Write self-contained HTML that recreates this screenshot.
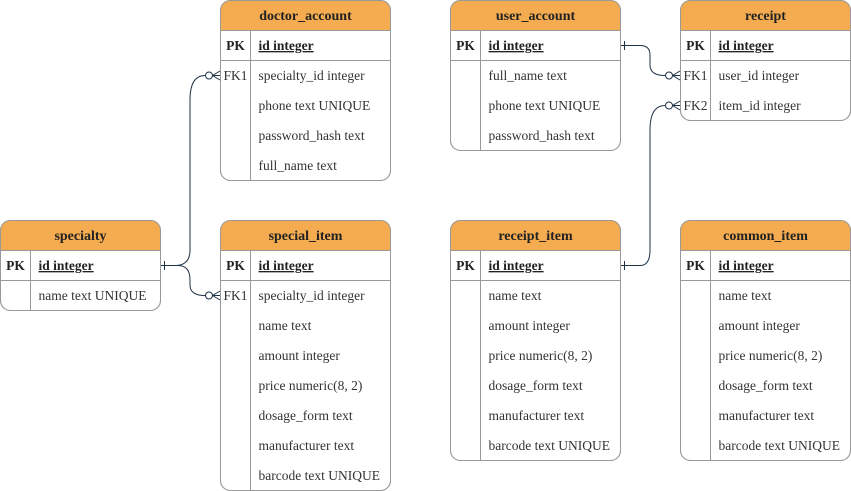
<!DOCTYPE html>
<html><head><meta charset="utf-8"><style>
html,body{margin:0;padding:0;background:#fff;}
svg{display:block;}
text{font-family:"Liberation Serif","DejaVu Serif",serif;font-size:13.5px;fill:#333;}
.h{font-weight:bold;font-size:14px;text-anchor:middle;fill:#222;}
.pk{font-weight:bold;text-anchor:middle;fill:#222;}
.fk{text-anchor:middle;fill:#333;}
.b{font-weight:bold;text-decoration:underline;fill:#222;}
.box{fill:#fff;stroke:#999;stroke-width:1;}
.hd{fill:#F5AC50;}
.ln{stroke:#999;stroke-width:1;}
.c{fill:none;stroke:#1f3347;stroke-width:1;}
</style></head><body>
<svg width="851" height="491" viewBox="0 0 851 491" xmlns="http://www.w3.org/2000/svg">

<g transform="translate(220.5,0.5)">
<rect class="box" width="170" height="180" rx="10"/>
<path class="hd" d="M0,30V10Q0,0 10,0H160Q170,0 170,10V30Z"/>
<rect width="170" height="180" rx="10" fill="none" stroke="#999"/>
<line class="ln" x1="0" y1="30" x2="170" y2="30"/><line class="ln" x1="0" y1="60" x2="170" y2="60"/><line class="ln" x1="30" y1="30" x2="30" y2="180"/>
<text class="h" x="85" y="19.5">doctor_account</text>
<text class="pk" x="15" y="49.5">PK</text><text class="b" x="38" y="49.5">id integer</text>
<text class="fk" x="15" y="79.5">FK1</text><text x="38" y="79.5">specialty_id integer</text>
<text x="38" y="109.5">phone text UNIQUE</text>
<text x="38" y="139.5">password_hash text</text>
<text x="38" y="169.5">full_name text</text>
</g>

<g transform="translate(450.5,0.5)">
<rect class="box" width="170" height="150" rx="10"/>
<path class="hd" d="M0,30V10Q0,0 10,0H160Q170,0 170,10V30Z"/>
<rect width="170" height="150" rx="10" fill="none" stroke="#999"/>
<line class="ln" x1="0" y1="30" x2="170" y2="30"/><line class="ln" x1="0" y1="60" x2="170" y2="60"/><line class="ln" x1="30" y1="30" x2="30" y2="150"/>
<text class="h" x="85" y="19.5">user_account</text>
<text class="pk" x="15" y="49.5">PK</text><text class="b" x="38" y="49.5">id integer</text>
<text x="38" y="79.5">full_name text</text>
<text x="38" y="109.5">phone text UNIQUE</text>
<text x="38" y="139.5">password_hash text</text>
</g>

<g transform="translate(680.5,0.5)">
<rect class="box" width="170" height="120" rx="10"/>
<path class="hd" d="M0,30V10Q0,0 10,0H160Q170,0 170,10V30Z"/>
<rect width="170" height="120" rx="10" fill="none" stroke="#999"/>
<line class="ln" x1="0" y1="30" x2="170" y2="30"/><line class="ln" x1="0" y1="60" x2="170" y2="60"/><line class="ln" x1="30" y1="30" x2="30" y2="120"/>
<text class="h" x="85" y="19.5">receipt</text>
<text class="pk" x="15" y="49.5">PK</text><text class="b" x="38" y="49.5">id integer</text>
<text class="fk" x="15" y="79.5">FK1</text><text x="38" y="79.5">user_id integer</text>
<text class="fk" x="15" y="109.5">FK2</text><text x="38" y="109.5">item_id integer</text>
</g>

<g transform="translate(0.5,220.5)">
<rect class="box" width="160" height="90" rx="10"/>
<path class="hd" d="M0,30V10Q0,0 10,0H150Q160,0 160,10V30Z"/>
<rect width="160" height="90" rx="10" fill="none" stroke="#999"/>
<line class="ln" x1="0" y1="30" x2="160" y2="30"/><line class="ln" x1="0" y1="60" x2="160" y2="60"/><line class="ln" x1="30" y1="30" x2="30" y2="90"/>
<text class="h" x="80" y="19.5">specialty</text>
<text class="pk" x="15" y="49.5">PK</text><text class="b" x="38" y="49.5">id integer</text>
<text x="38" y="79.5">name text UNIQUE</text>
</g>

<g transform="translate(220.5,220.5)">
<rect class="box" width="170" height="270" rx="10"/>
<path class="hd" d="M0,30V10Q0,0 10,0H160Q170,0 170,10V30Z"/>
<rect width="170" height="270" rx="10" fill="none" stroke="#999"/>
<line class="ln" x1="0" y1="30" x2="170" y2="30"/><line class="ln" x1="0" y1="60" x2="170" y2="60"/><line class="ln" x1="30" y1="30" x2="30" y2="270"/>
<text class="h" x="85" y="19.5">special_item</text>
<text class="pk" x="15" y="49.5">PK</text><text class="b" x="38" y="49.5">id integer</text>
<text class="fk" x="15" y="79.5">FK1</text><text x="38" y="79.5">specialty_id integer</text>
<text x="38" y="109.5">name text</text>
<text x="38" y="139.5">amount integer</text>
<text x="38" y="169.5">price numeric(8, 2)</text>
<text x="38" y="199.5">dosage_form text</text>
<text x="38" y="229.5">manufacturer text</text>
<text x="38" y="259.5">barcode text UNIQUE</text>
</g>

<g transform="translate(450.5,220.5)">
<rect class="box" width="170" height="240" rx="10"/>
<path class="hd" d="M0,30V10Q0,0 10,0H160Q170,0 170,10V30Z"/>
<rect width="170" height="240" rx="10" fill="none" stroke="#999"/>
<line class="ln" x1="0" y1="30" x2="170" y2="30"/><line class="ln" x1="0" y1="60" x2="170" y2="60"/><line class="ln" x1="30" y1="30" x2="30" y2="240"/>
<text class="h" x="85" y="19.5">receipt_item</text>
<text class="pk" x="15" y="49.5">PK</text><text class="b" x="38" y="49.5">id integer</text>
<text x="38" y="79.5">name text</text>
<text x="38" y="109.5">amount integer</text>
<text x="38" y="139.5">price numeric(8, 2)</text>
<text x="38" y="169.5">dosage_form text</text>
<text x="38" y="199.5">manufacturer text</text>
<text x="38" y="229.5">barcode text UNIQUE</text>
</g>

<g transform="translate(680.5,220.5)">
<rect class="box" width="170" height="240" rx="10"/>
<path class="hd" d="M0,30V10Q0,0 10,0H160Q170,0 170,10V30Z"/>
<rect width="170" height="240" rx="10" fill="none" stroke="#999"/>
<line class="ln" x1="0" y1="30" x2="170" y2="30"/><line class="ln" x1="0" y1="60" x2="170" y2="60"/><line class="ln" x1="30" y1="30" x2="30" y2="240"/>
<text class="h" x="85" y="19.5">common_item</text>
<text class="pk" x="15" y="49.5">PK</text><text class="b" x="38" y="49.5">id integer</text>
<text x="38" y="79.5">name text</text>
<text x="38" y="109.5">amount integer</text>
<text x="38" y="139.5">price numeric(8, 2)</text>
<text x="38" y="169.5">dosage_form text</text>
<text x="38" y="199.5">manufacturer text</text>
<text x="38" y="229.5">barcode text UNIQUE</text>
</g>

<path class="c" d="M161,265.5 L175,265.5 Q190,265.5 190,250 L190,100 Q190,75.5 205,75.5"/>
<path class="c" d="M161,265.5 L178,265.5 Q190,265.5 190,280 L190,285 Q190,295.5 205,295.5"/>
<path class="c" d="M621,45.5 L640,45.5 Q650,45.5 650,55 L650,65 Q650,75.5 665,75.5"/>
<path class="c" d="M621,265.5 L640,265.5 Q650,265.5 650,250 L650,130 Q650,105.5 665,105.5"/>
<line class="c" x1="164.5" y1="261" x2="164.5" y2="270"/>
<line class="c" x1="624.5" y1="41" x2="624.5" y2="50"/>
<line class="c" x1="624.5" y1="261" x2="624.5" y2="270"/>
<g class="c">
<circle cx="209" cy="75.5" r="3.5"/><path d="M212.5,75.5 L220,71 M212.5,75.5 L220,75.5 M212.5,75.5 L220,80"/>
<circle cx="209" cy="295.5" r="3.5"/><path d="M212.5,295.5 L220,291 M212.5,295.5 L220,295.5 M212.5,295.5 L220,300"/>
<circle cx="669" cy="75.5" r="3.5"/><path d="M672.5,75.5 L680,71 M672.5,75.5 L680,75.5 M672.5,75.5 L680,80"/>
<circle cx="669" cy="105.5" r="3.5"/><path d="M672.5,105.5 L680,101 M672.5,105.5 L680,105.5 M672.5,105.5 L680,110"/>
</g>
</svg>
</body></html>
